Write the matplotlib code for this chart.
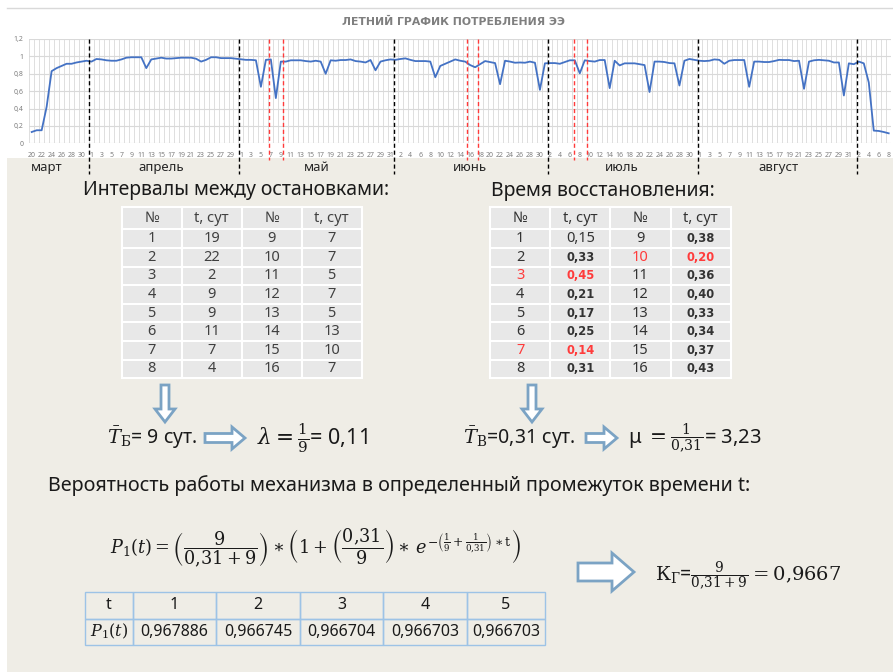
import numpy as np
import pandas as pd
import matplotlib
matplotlib.use('Agg')
import matplotlib.pyplot as plt
from matplotlib.patches import FancyArrow, Rectangle
import matplotlib.transforms as mtransforms

plt.rcParams['font.family'] = ['Noto Sans', 'DejaVu Sans']
plt.rcParams['mathtext.fontset'] = 'dejavuserif'

# ---- данные графика ----
dates = pd.date_range('2019-03-20', '2019-09-08')
load = [0.13, 0.15, 0.15, 0.42, 0.83, 0.865, 0.89, 0.915, 0.915, 0.93, 0.94, 0.95,
        0.94, 0.97, 0.965, 0.955, 0.95, 0.95, 0.965, 0.985, 0.99, 0.99, 0.99, 0.865,
        0.965, 0.975, 0.985, 0.975, 0.975, 0.98, 0.985, 0.985, 0.985, 0.973, 0.94, 0.96,
        0.99, 0.99, 0.98, 0.98, 0.98, 0.973,
        0.965, 0.96, 0.96, 0.955, 0.65, 0.96, 0.965, 0.52, 0.94, 0.94, 0.955, 0.955,
        0.955, 0.946, 0.94, 0.95, 0.94, 0.80, 0.955, 0.95, 0.958, 0.958, 0.965, 0.946,
        0.94, 0.93, 0.958, 0.84, 0.94, 0.955, 0.965,
        0.96, 0.97, 0.977, 0.96, 0.946, 0.946, 0.946, 0.94, 0.76, 0.89, 0.915, 0.94,
        0.965, 0.95, 0.94, 0.90, 0.875, 0.91, 0.946, 0.935, 0.923, 0.68, 0.95, 0.94,
        0.927, 0.93, 0.927, 0.94, 0.927, 0.615,
        0.92, 0.923, 0.923, 0.915, 0.935, 0.955, 0.955, 0.805, 0.955, 0.946, 0.94, 0.958,
        0.958, 0.635, 0.95, 0.896, 0.92, 0.92, 0.92, 0.91, 0.90, 0.59, 0.94, 0.94,
        0.935, 0.923, 0.92, 0.665, 0.95, 0.97, 0.96,
        0.95, 0.946, 0.95, 0.965, 0.96, 0.915, 0.95, 0.958, 0.958, 0.958, 0.65, 0.94,
        0.94, 0.935, 0.935, 0.946, 0.96, 0.958, 0.958, 0.946, 0.95, 0.627, 0.94, 0.955,
        0.96, 0.955, 0.95, 0.93, 0.93, 0.55, 0.92,
        0.91, 0.94, 0.92, 0.70, 0.146, 0.142, 0.13, 0.115]
day_labels = [str(d.day) for d in dates]
y_ticks = [0, 0.2, 0.4, 0.6, 0.8, 1.0, 1.2]
y_tick_labels = ['0', '0,2', '0,4', '0,6', '0,8', '1', '1,2']
month_names = ['март', 'апрель', 'май', 'июнь', 'июль', 'август']
month_pos = [3, 26, 57.3, 88, 118.5, 149.8]
month_bounds = [11.55, 41.6, 72.8, 103.6, 133.7, 165.6]
stop_marks = [47.55, 50.5, 87.3, 89.6, 108.8, 111.5]

# таблицы
stop_no_a = [1, 2, 3, 4, 5, 6, 7, 8]
stop_t_a = [19, 22, 2, 9, 9, 11, 7, 4]
stop_no_b = [9, 10, 11, 12, 13, 14, 15, 16]
stop_t_b = [7, 7, 5, 7, 5, 13, 10, 7]
rec_t_a = [0.15, 0.33, 0.45, 0.21, 0.17, 0.25, 0.14, 0.31]
rec_t_b = [0.38, 0.20, 0.36, 0.40, 0.33, 0.34, 0.37, 0.43]
red_rows_a = [3, 7]
red_rows_b = [10]
t_vals = [1, 2, 3, 4, 5]
p_vals = [0.967886, 0.966745, 0.966704, 0.966703, 0.966703]

W, H = 893, 672
fig = plt.figure(figsize=(W / 100, H / 100), dpi=100, facecolor='white')

# слой-подложка в пикселях
bg = fig.add_axes([0, 0, 1, 1])
bg.set_xlim(0, W)
bg.set_ylim(H, 0)
bg.axis('off')
bg.set_zorder(0)
bg.add_patch(Rectangle((7, 158), W - 7, H - 158, fc='#EFEDE6', ec='none', zorder=0))
bg.plot([7, W], [8, 8], color='#D9D9D9', lw=1)
bg.text(453, 22, 'ЛЕТНИЙ ГРАФИК ПОТРЕБЛЕНИЯ ЭЭ', ha='center', va='center',
        fontsize=7.8, fontweight='bold', color='#7F7F7F', family='DejaVu Sans')

# ---- график ----
def px(x0, y0, x1, y1):
    return [x0 / W, 1 - y1 / H, (x1 - x0) / W, (y1 - y0) / H]

ax = fig.add_axes(px(29.2, 39, 891.2, 143.3))
ax.set_zorder(1)
x = np.arange(len(load))
ax.plot(x, load, color='#4472C4', lw=1.3, zorder=3)
ax.set_xlim(-0.5, len(load) - 0.5)
ax.set_ylim(0, 1.2)
ax.set_xticks(x[::2])
ax.set_xticklabels(day_labels[::2], fontsize=5, color='#7F7F7F')
ax.set_xticks(np.arange(len(load) + 1) - 0.5, minor=True)
ax.set_yticks(y_ticks)
ax.set_yticklabels(y_tick_labels, fontsize=5, color='#7F7F7F')
ax.tick_params(axis='both', which='both', length=0)
ax.tick_params(axis='x', pad=6)
ax.tick_params(axis='y', pad=4)
ax.grid(axis='y', which='major', color='#D9D9D9', lw=0.8)
ax.grid(axis='x', which='minor', color='#D9D9D9', lw=0.6)
for s in ax.spines.values():
    s.set_visible(False)

trans = mtransforms.blended_transform_factory(ax.transData, ax.transAxes)
for b in month_bounds:
    ax.plot([b, b], [1, -0.29], transform=trans, color='black', lw=1,
            ls=(0, (3, 2)), clip_on=False, zorder=4)
for r in stop_marks:
    ax.plot([r, r], [1, -0.16], transform=trans, color='#FF3B3B', lw=1,
            ls=(0, (3, 2)), clip_on=False, zorder=4)
for name, p in zip(month_names, month_pos):
    ax.text(p, -0.23, name, transform=trans, ha='center', va='center',
            fontsize=9.5, color='#262626')

# ---- заголовки ----
bg.text(83, 190, 'Интервалы между остановками:', ha='left', va='center',
        fontsize=14, color='#1A1A1A')
bg.text(491, 191, 'Время восстановления:', ha='left', va='center',
        fontsize=14, color='#1A1A1A')

# ---- таблицы ----
def gray_table(cells, colors, x0, x1, y0, y1):
    tb = bg.table(cellText=cells, bbox=[x0 / W, 1 - y1 / H, (x1 - x0) / W, (y1 - y0) / H],
                  cellLoc='center')
    tb.set_zorder(3)
    tb.auto_set_font_size(False)
    tb.set_fontsize(10.5)
    for (r, c), cell in tb.get_celld().items():
        cell.set_facecolor('#E8E8E8')
        cell.set_edgecolor('white')
        cell.set_linewidth(1.5)
        cell.set_height(22 if r == 0 else 18.6)
        cell.get_text().set_color(colors[r][c])
    return tb

def fmt(v):
    return f'{v:.2f}'.replace('.', ',')

hdr = ['№', 't, сут', '№', 't, сут']
cells_a = [hdr] + [[str(a), str(b), str(c), str(d)]
                   for a, b, c, d in zip(stop_no_a, stop_t_a, stop_no_b, stop_t_b)]
col_a = [['#404040'] * 4 for _ in cells_a]
gray_table(cells_a, col_a, 121.7, 361.7, 207.3, 378.3)

cells_b = [hdr] + [[str(a), fmt(b), str(c), fmt(d)]
                   for a, b, c, d in zip(stop_no_a, rec_t_a, stop_no_b, rec_t_b)]
col_b = [['#333333'] * 4 for _ in cells_b]
for r in red_rows_a:
    col_b[r][0] = col_b[r][1] = '#FF3B3B'
for r in red_rows_b:
    col_b[r - 8][2] = col_b[r - 8][3] = '#FF3B3B'
tb_b = gray_table(cells_b, col_b, 490, 730.7, 207.3, 378.3)
for (r, c), cell in tb_b.get_celld().items():
    if (r > 1 and c in (1, 3)) or (r == 1 and c == 3):
        cell.get_text().set_fontsize(8.3)
        cell.get_text().set_fontweight('bold')
        cell.get_text().set_family('DejaVu Sans')

# ---- стрелки ----
arrow_kw = dict(length_includes_head=True, fc='white', ec='#7BA3C4', lw=2, zorder=5)
bg.add_patch(FancyArrow(165, 385, 0, 37, width=8, head_width=20, head_length=13, **arrow_kw))
bg.add_patch(FancyArrow(532, 385, 0, 37, width=8, head_width=20, head_length=13, **arrow_kw))
bg.add_patch(FancyArrow(205, 438, 40, 0, width=9, head_width=22, head_length=13, **arrow_kw))
bg.add_patch(FancyArrow(586, 438, 31, 0, width=9, head_width=22, head_length=13, **arrow_kw))
bg.add_patch(FancyArrow(578, 572, 56, 0, width=18, head_width=38, head_length=22, **arrow_kw))

# ---- формулы ----
bg.text(107, 438, r'$\bar{T}_{\mathrm{Б}}$= 9 сут.', ha='left', va='center',
        fontsize=14, color='#1A1A1A')
bg.text(257, 438, r'$\lambda=\frac{1}{9}$= 0,11', ha='left', va='center',
        fontsize=15.5, color='#1A1A1A')
bg.text(463, 438, r'$\bar{T}_{\mathrm{В}}$=0,31 сут.', ha='left', va='center',
        fontsize=14, color='#1A1A1A')
bg.text(628, 438, r'μ $=\frac{1}{0{,}31}$= 3,23', ha='left', va='center',
        fontsize=14.5, color='#1A1A1A')

bg.text(48, 486, 'Вероятность работы механизма в определенный промежуток времени t:',
        ha='left', va='center', fontsize=14.2, color='#1A1A1A')
bg.text(110, 548,
        r'$P_1(t)=\left(\dfrac{9}{0{,}31+9}\right)\ast\left(1+\left(\dfrac{0{,}31}{9}\right)'
        r'\ast\, e^{-\left(\frac{1}{9}+\frac{1}{0{,}31}\right)\ast \mathrm{t}}\right)$',
        ha='left', va='center', fontsize=12.7, color='#1A1A1A')
bg.text(655, 576, r'$\mathrm{К}_{\mathrm{Г}}$=$\frac{9}{0{,}31+9}=0{,}9667$',
        ha='left', va='center', fontsize=14, color='#1A1A1A')

# ---- нижняя таблица ----
cells_p = [['t'] + [str(t) for t in t_vals],
           [r'$P_1(t)$'] + [f'{p:.6f}'.replace('.', ',') for p in p_vals]]
tb_p = bg.table(cellText=cells_p, bbox=[85 / W, 1 - 645 / H, 460 / W, 53 / H],
                cellLoc='center')
tb_p.set_zorder(3)
tb_p.auto_set_font_size(False)
tb_p.set_fontsize(11.5)
col_w = [48, 83, 84, 83, 84, 78]
for (r, c), cell in tb_p.get_celld().items():
    cell.set_facecolor('none')
    cell.set_edgecolor('#9DC3E6')
    cell.set_linewidth(1)
    cell.set_width(col_w[c])
    cell.get_text().set_color('#1A1A1A')

fig.savefig('out.png', dpi=100, facecolor=fig.get_facecolor())
